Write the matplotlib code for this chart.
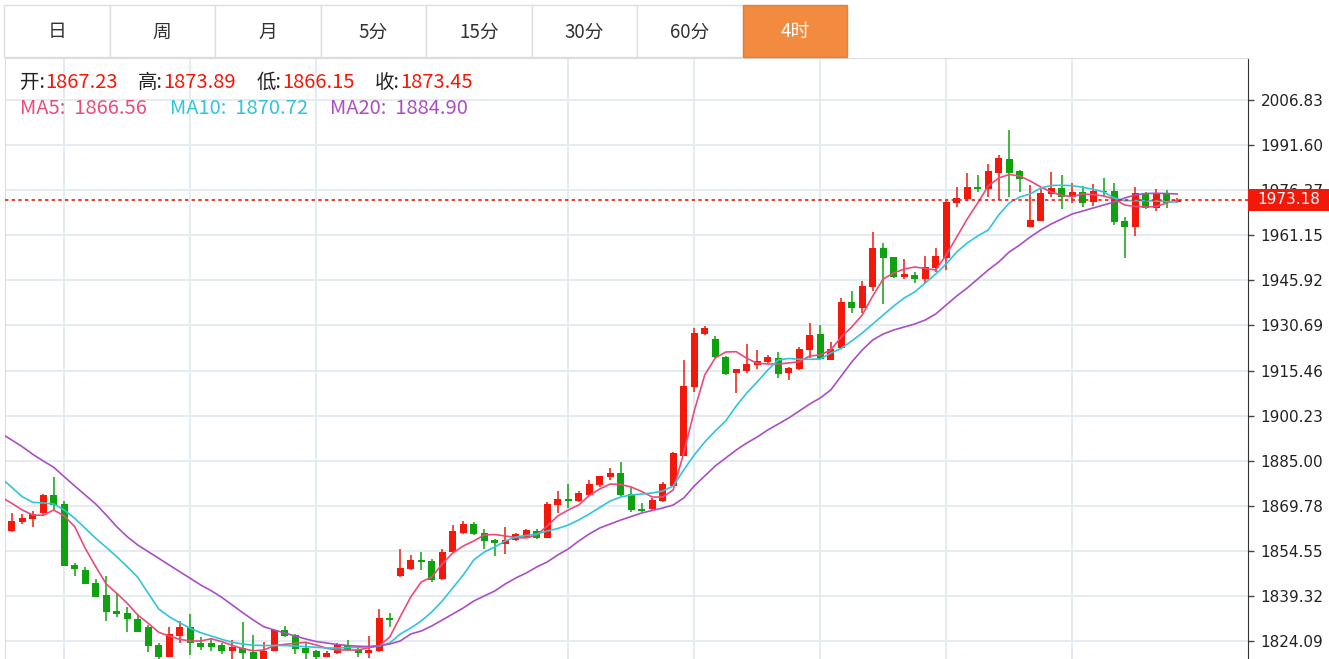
import matplotlib.pyplot as plt
import numpy as np
from matplotlib.patches import Rectangle

plt.rcParams['font.family'] = ['Noto Sans CJK SC', 'DejaVu Sans']

# period tabs
tab_labels = ["日", "周", "月", "5分", "15分", "30分", "60分", "4时"]
active_tab = 7

# 4h candles (open, high, low, close)
opens = [1861.35, 1864.39, 1865.20, 1867.23, 1873.41, 1870.37, 1849.86, 1848.07, 1843.78, 1839.53,
         1834.22, 1833.65, 1831.62, 1828.72, 1822.74, 1818.79, 1825.88, 1828.72, 1823.52, 1823.31,
         1822.74, 1820.81, 1821.83, 1820.27, 1817.70, 1820.81, 1827.81, 1826.12, 1821.83, 1820.71,
         1818.79, 1819.94, 1822.74, 1821.05, 1819.94, 1820.71, 1831.76, 1846.15, 1848.41, 1851.55,
         1851.01, 1844.93, 1854.05, 1860.67, 1863.51, 1860.47, 1858.21, 1856.76, 1858.11, 1859.22,
         1861.25, 1858.88, 1869.93, 1871.96, 1871.28, 1873.51, 1876.89, 1879.59, 1880.74, 1873.65,
         1868.78, 1868.58, 1871.38, 1876.54, 1886.68, 1909.89, 1927.69, 1926.00, 1920.13, 1914.52,
         1915.40, 1917.32, 1918.44, 1919.59, 1914.52, 1915.87, 1922.39, 1927.69, 1919.01, 1922.96,
         1938.71, 1936.48, 1943.57, 1956.74, 1953.70, 1946.95, 1947.83, 1946.27, 1949.99, 1953.57,
         1971.95, 1973.30, 1977.56, 1976.79, 1982.34, 1987.01, 1982.74, 1963.94, 1965.96, 1974.97,
         1977.20, 1973.96, 1975.66, 1972.49, 1976.20, 1976.09, 1966.06, 1963.83, 1975.31, 1970.25,
         1975.53, 1972.30]
highs = [1867.23, 1866.89, 1868.11, 1873.89, 1879.59, 1871.48, 1850.54, 1848.99, 1844.93, 1846.05,
         1840.41, 1835.68, 1833.11, 1829.50, 1823.31, 1828.92, 1830.95, 1833.21, 1825.34, 1824.67,
         1823.52, 1824.43, 1830.51, 1826.22, 1823.65, 1828.05, 1829.16, 1826.45, 1823.52, 1821.05,
         1820.71, 1823.31, 1824.43, 1822.17, 1825.78, 1834.80, 1833.65, 1855.07, 1853.04, 1854.26,
         1851.69, 1855.07, 1863.28, 1864.73, 1864.39, 1861.92, 1858.45, 1862.60, 1860.47, 1862.03,
         1861.82, 1870.94, 1874.76, 1877.12, 1874.76, 1878.48, 1879.93, 1882.53, 1884.66, 1876.21,
         1870.61, 1872.29, 1877.90, 1888.03, 1919.01, 1929.72, 1930.50, 1927.12, 1920.36, 1916.00,
         1924.42, 1922.39, 1920.60, 1921.82, 1916.75, 1923.50, 1931.41, 1930.84, 1925.09, 1940.06,
         1942.32, 1945.80, 1962.35, 1958.43, 1953.91, 1953.13, 1948.84, 1954.14, 1956.74, 1972.82,
         1977.29, 1982.07, 1981.50, 1985.35, 1988.17, 1996.74, 1983.07, 1978.13, 1976.69, 1982.41,
         1981.50, 1978.79, 1977.63, 1978.47, 1980.38, 1978.79, 1967.31, 1977.36, 1975.86, 1976.69,
         1976.48, 1973.80]
lows = [1861.00, 1863.71, 1862.70, 1866.15, 1868.34, 1849.30, 1846.15, 1843.20, 1838.90, 1830.95,
        1832.30, 1827.03, 1827.10, 1820.47, 1817.50, 1818.60, 1823.31, 1819.36, 1821.05, 1820.61,
        1819.70, 1818.00, 1818.00, 1817.00, 1817.00, 1820.60, 1825.55, 1819.70, 1818.00, 1818.00,
        1818.60, 1819.70, 1820.81, 1818.58, 1818.25, 1820.50, 1828.92, 1845.61, 1848.07, 1848.07,
        1844.12, 1844.70, 1853.90, 1860.23, 1859.80, 1855.07, 1852.90, 1853.38, 1858.00, 1859.10,
        1858.45, 1858.80, 1867.43, 1869.02, 1871.04, 1873.31, 1876.21, 1878.48, 1873.07, 1867.77,
        1867.77, 1868.50, 1871.15, 1876.40, 1886.50, 1908.10, 1927.46, 1919.80, 1913.95, 1907.76,
        1914.52, 1915.87, 1917.90, 1913.03, 1912.26, 1915.63, 1919.59, 1919.01, 1918.90, 1922.80,
        1934.99, 1934.99, 1942.42, 1937.93, 1946.80, 1946.27, 1944.92, 1945.12, 1948.84, 1949.41,
        1970.53, 1972.82, 1975.86, 1974.09, 1973.05, 1974.09, 1975.86, 1963.80, 1965.80, 1974.09,
        1969.92, 1972.15, 1970.75, 1971.06, 1974.09, 1964.61, 1953.37, 1960.90, 1970.10, 1969.47,
        1970.48, 1972.00]
closes = [1864.63, 1865.54, 1866.99, 1873.45, 1870.03, 1849.43, 1848.51, 1843.34, 1839.05, 1833.89,
          1833.21, 1831.42, 1827.23, 1822.50, 1818.79, 1826.35, 1828.72, 1823.31, 1822.17, 1822.17,
          1820.81, 1821.96, 1819.94, 1817.70, 1820.81, 1827.81, 1825.78, 1821.49, 1820.14, 1818.58,
          1820.14, 1822.74, 1821.05, 1819.94, 1821.05, 1831.76, 1831.18, 1848.75, 1851.55, 1850.88,
          1844.70, 1854.26, 1861.25, 1863.61, 1860.23, 1857.87, 1857.09, 1858.21, 1860.13, 1861.48,
          1858.79, 1870.27, 1871.96, 1871.38, 1874.19, 1877.12, 1879.83, 1880.74, 1873.41, 1868.34,
          1868.11, 1871.72, 1877.02, 1887.49, 1910.33, 1928.03, 1929.72, 1919.92, 1914.28, 1915.87,
          1917.56, 1918.78, 1919.92, 1914.28, 1916.21, 1922.73, 1927.46, 1919.25, 1922.83, 1938.71,
          1936.48, 1944.11, 1956.74, 1953.37, 1946.95, 1948.06, 1946.27, 1950.33, 1954.14, 1972.38,
          1973.84, 1977.56, 1976.79, 1982.74, 1987.31, 1982.34, 1980.04, 1966.20, 1975.31, 1977.20,
          1973.96, 1975.86, 1971.95, 1976.20, 1975.76, 1965.72, 1963.93, 1975.53, 1970.25, 1975.31,
          1972.15, 1973.18]

# moving averages, first point is one bar before the first visible candle
ma5 = [1872.73, 1870.61, 1868.34, 1866.65, 1866.56, 1868.34, 1866.32, 1862.70, 1855.40, 1849.19,
       1843.34, 1840.20, 1836.83, 1832.87, 1830.07, 1827.03, 1825.78, 1824.66, 1824.09, 1824.09,
       1824.87, 1823.86, 1822.64, 1821.49, 1820.81, 1821.05, 1822.50, 1822.98, 1823.31, 1823.65,
       1822.74, 1821.62, 1821.05, 1821.05, 1821.05, 1821.83, 1822.40, 1825.44, 1832.30, 1838.95,
       1844.02, 1845.71, 1850.10, 1853.82, 1856.18, 1857.87, 1859.90, 1860.07, 1859.56, 1859.05,
       1858.88, 1859.90, 1862.94, 1866.32, 1868.34, 1870.03, 1873.24, 1875.44, 1877.12, 1876.96,
       1876.11, 1874.59, 1872.73, 1872.73, 1875.10, 1887.60, 1901.78, 1913.95, 1919.69, 1921.71,
       1921.82, 1919.58, 1917.90, 1917.66, 1917.66, 1918.00, 1918.44, 1920.36, 1920.70, 1922.39,
       1926.78, 1930.16, 1934.21, 1940.63, 1946.37, 1948.40, 1949.75, 1950.43, 1949.92, 1949.41,
       1954.48, 1960.56, 1966.64, 1972.05, 1977.79, 1980.49, 1981.67, 1981.17, 1979.48, 1977.45,
       1975.76, 1974.58, 1974.24, 1975.08, 1974.91, 1974.41, 1973.39, 1971.37, 1970.86, 1970.69,
       1970.86, 1972.05, 1973.06]
ma10 = [1879.15, 1876.01, 1872.83, 1870.94, 1870.72, 1870.37, 1868.34, 1865.54, 1862.16, 1858.78,
        1855.74, 1852.57, 1849.19, 1845.61, 1840.20, 1834.90, 1832.30, 1830.27, 1828.38, 1826.89,
        1825.78, 1824.66, 1823.65, 1823.08, 1822.64, 1822.57, 1822.57, 1822.57, 1822.40, 1822.17,
        1821.96, 1821.73, 1821.73, 1821.86, 1821.96, 1822.17, 1822.40, 1823.41, 1826.45, 1828.48,
        1830.85, 1833.89, 1837.60, 1841.99, 1846.38, 1851.45, 1854.15, 1855.84, 1857.87, 1859.22,
        1859.73, 1860.23, 1861.25, 1862.09, 1863.27, 1864.96, 1866.99, 1869.19, 1871.38, 1872.73,
        1873.41, 1873.75, 1874.08, 1874.76, 1876.45, 1881.85, 1886.92, 1891.31, 1895.03, 1898.41,
        1903.47, 1907.86, 1911.58, 1915.63, 1919.01, 1919.52, 1919.25, 1919.25, 1919.35, 1921.38,
        1922.90, 1925.43, 1928.13, 1931.17, 1934.21, 1937.25, 1939.96, 1941.98, 1945.02, 1948.06,
        1951.44, 1955.49, 1958.53, 1960.90, 1962.93, 1967.99, 1972.05, 1974.07, 1975.08, 1977.11,
        1977.96, 1978.02, 1977.89, 1977.35, 1976.67, 1975.76, 1973.73, 1972.82, 1972.82, 1972.82,
        1972.72, 1972.55, 1972.38]
ma20 = [1894.18, 1891.99, 1889.72, 1887.16, 1884.90, 1882.77, 1879.59, 1876.45, 1873.41, 1870.37,
        1866.65, 1862.70, 1859.32, 1856.52, 1854.26, 1852.03, 1849.76, 1847.50, 1845.27, 1843.01,
        1841.08, 1838.85, 1836.25, 1833.65, 1831.18, 1828.92, 1827.81, 1826.79, 1825.78, 1824.77,
        1823.92, 1823.41, 1822.91, 1822.57, 1822.33, 1822.23, 1822.47, 1823.08, 1824.09, 1826.45,
        1827.47, 1829.16, 1831.18, 1833.21, 1835.24, 1837.60, 1839.29, 1840.98, 1843.34, 1845.37,
        1847.06, 1849.09, 1850.78, 1853.14, 1855.17, 1857.87, 1860.23, 1862.26, 1863.61, 1864.96,
        1866.15, 1867.33, 1868.17, 1869.02, 1870.03, 1872.40, 1876.45, 1879.83, 1883.21, 1885.91,
        1888.61, 1890.97, 1893.00, 1895.37, 1897.39, 1899.42, 1901.78, 1904.15, 1906.18, 1908.88,
        1913.61, 1918.34, 1922.39, 1925.77, 1927.79, 1929.15, 1930.16, 1931.17, 1932.52, 1934.55,
        1937.59, 1940.63, 1943.33, 1946.37, 1949.41, 1952.12, 1955.49, 1957.86, 1960.56, 1962.93,
        1964.95, 1966.64, 1968.33, 1969.34, 1970.36, 1971.37, 1972.38, 1973.73, 1974.75, 1975.25,
        1975.32, 1975.25, 1975.08]

# price axis ticks
y_ticks = [1824.09, 1839.32, 1854.55, 1869.78, 1885.00, 1900.23, 1915.46, 1930.69,
           1945.92, 1961.15, 1976.37, 1991.60, 2006.83]
grid_bars = [5, 17, 29, 53, 65, 77, 89, 101]

# hovered bar shown in the header
info_bar = 3

RED = "#f2190b"
GREEN = "#0fa20f"
C_MA5 = "#ec4a7b"
C_MA10 = "#30c5d8"
C_MA20 = "#aa4fc4"

W, H = 1329, 659
fig = plt.figure(figsize=(W / 100, H / 100), dpi=100)
ax = fig.add_axes([5 / W, 0, 1243 / W, 601 / H])

x = np.arange(len(closes))
o = np.array(opens)
c = np.array(closes)
up = c >= o
colors = np.where(up, RED, GREEN)

ax.vlines(x, lows, highs, colors=colors, lw=1.1, zorder=2)
body_lo = np.minimum(o, c)
body_h = np.maximum(np.abs(c - o), 0.35)
ax.bar(x, body_h, bottom=body_lo, width=0.68, color=colors, zorder=3)

ma_x = np.arange(-1, len(closes))
ax.plot(ma_x, ma5, color=C_MA5, lw=1.2, zorder=4)
ax.plot(ma_x, ma10, color=C_MA10, lw=1.2, zorder=4)
ax.plot(ma_x, ma20, color=C_MA20, lw=1.2, zorder=4)

last = closes[-1]
ax.axhline(last, color=RED, lw=1.2, ls=(0, (2, 2)), zorder=5)

ax.set_xlim(-0.64, 117.74)
ax.set_ylim(1818.01, 2021.02)
ax.set_xticks(grid_bars)
ax.set_yticks(y_ticks)
ax.set_yticklabels([f"{v:.2f}" for v in y_ticks], fontfamily="DejaVu Sans")
ax.yaxis.tick_right()
ax.tick_params(axis="x", length=0, labelbottom=False)
ax.tick_params(axis="y", length=4, width=1, color="#444444", pad=5,
               labelsize=11, labelcolor="#222222")
ax.grid(color="#e3eaf0", lw=1.3)
ax.set_axisbelow(True)
for side in ["left", "top"]:
    ax.spines[side].set_color("#dcdcdc")
ax.spines["right"].set_color("#333333")
ax.spines["bottom"].set_visible(False)

# last price tag on the axis (covers the 1976.37 label like the original)
tag = Rectangle((1.0, last - 3.72), 81 / 1243, 7.43, transform=ax.get_yaxis_transform(),
                clip_on=False, facecolor=RED, edgecolor="none", zorder=6)
ax.add_patch(tag)
ax.text(1.0 + 9 / 1243, last, f"{last:.2f}", transform=ax.get_yaxis_transform(),
        ha="left", va="center", color="white", fontsize=11, fontfamily="DejaVu Sans",
        clip_on=False, zorder=7)

# overlay in pixel units for the tabs and the header
ov = fig.add_axes([0, 0, 1, 1])
ov.set_xlim(0, W)
ov.set_ylim(H, 0)
ov.axis("off")
ov.patch.set_alpha(0)

tab_w = 105.5
for k, lab in enumerate(tab_labels):
    x0 = 4 + k * tab_w
    if k == active_tab:
        ov.add_patch(Rectangle((x0, 5), tab_w - 1, 52, facecolor="#f28a3f",
                               edgecolor="#e57f35", lw=1))
        tc = "white"
    else:
        ov.add_patch(Rectangle((x0, 5), tab_w, 52, facecolor="white",
                               edgecolor="#dedede", lw=1))
        tc = "#333333"
    ov.text(x0 + tab_w / 2, 32, lab, ha="center", va="center", fontsize=13.5, color=tc)

hdr = [("开:", opens[info_bar], 20), ("高:", highs[info_bar], 138),
       ("低:", lows[info_bar], 257), ("收:", closes[info_bar], 375)]
for name, val, px in hdr:
    t = ov.text(px, 82, name, ha="left", va="center", fontsize=14, color="#222222")
    ov.annotate(f"{val:.2f}", xy=(1, 0.5), xycoords=t, xytext=(0.5, 0),
                textcoords="offset points", ha="left", va="center", fontsize=14.5, color=RED)

ma_hdr = [("MA5", ma5[info_bar + 1], C_MA5, 20), ("MA10", ma10[info_bar + 1], C_MA10, 170),
          ("MA20", ma20[info_bar + 1], C_MA20, 330)]
for name, val, col, px in ma_hdr:
    ov.text(px, 109, f"{name}:  {val:.2f}", ha="left", va="center", fontsize=14.5, color=col)

fig.savefig("out.png", dpi=100)
